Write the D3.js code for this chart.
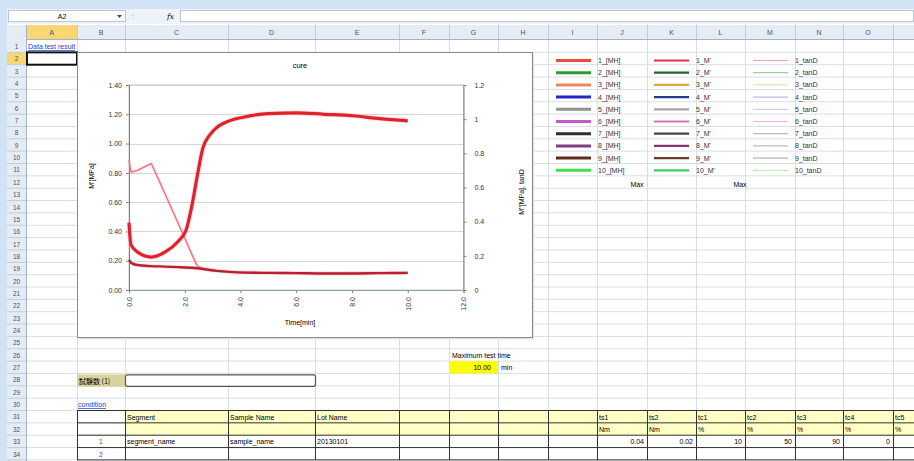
<!DOCTYPE html>
<html>
<head>
<meta charset="utf-8">
<script src="https://cdn.jsdelivr.net/npm/d3@7"></script>
<style>
	body{margin:0;background:#fff;}
	svg{display:block;font-family:"Liberation Sans",Arial,sans-serif;}
	.axis path,.axis line{stroke:#808080;}
	.axis text{fill:#333;font-size:7px;}
</style>
</head>
<body>
<svg id="sheet" width="914" height="461"></svg>
<script>

// values
var time    = [0, 0.07, 0.3, 0.8, 1.3, 1.75, 2.05, 2.25, 2.45, 2.65, 2.9, 3.15, 3.6, 4.1, 5, 6, 7, 8, 9, 10];
var mPrime  = [0.46, 0.31, 0.26, 0.225, 0.26, 0.33, 0.41, 0.57, 0.78, 0.97, 1.06, 1.11, 1.155, 1.18, 1.205, 1.21, 1.20, 1.19, 1.17, 1.155];
var mDouble = [0.176, 0.16, 0.146, 0.14, 0.137, 0.134, 0.132, 0.13, 0.127, 0.123, 0.117, 0.112, 0.106, 0.102, 0.10, 0.099, 0.097, 0.097, 0.099, 0.10];
var tanD    = [0.76, 0.69, 0.70, 0.74, 0.56, 0.395, 0.285, 0.21, 0.14, 0.127, 0.118, 0.113, 0.108, 0.105, 0.10, 0.098, 0.097, 0.098, 0.10, 0.10];

var xTicks     = [0, 2, 4, 6, 8, 10, 12];
var leftTicks  = [0, 0.2, 0.4, 0.6, 0.8, 1.0, 1.2, 1.4];
var rightTicks = [0, 0.2, 0.4, 0.6, 0.8, 1.0, 1.2];

var legendNums   = ["1","2","3","4","5","6","7","8","9","10"];
var legendSuffix = ["_[MH]", "_M'", "_tanD"];
var colorsMH  = ["#f04a3c","#2f9a34","#f2865a","#2228c4","#939393","#c458c8","#2e2e2e","#7e3f7e","#5e2d22","#3fe04c"];
var colorsM   = ["#e0304c","#226626","#e4a24a","#233a8c","#a4a4a4","#e070c4","#444444","#923072","#6e3e20","#34d060"];
var colorsTan = ["#f0a4a8","#86c488","#f0d2a4","#a4a6e4","#c4c4c4","#f0b4e4","#a8a8a8","#b8a4b4","#b49a94","#a4f0a8"];
var legendFoot = ["Max", "Max"];

var colLetters = ["A","B","C","D","E","F","G","H","I","J","K","L","M","N","O"];
var tableHead  = ["Segment", "Sample Name", "Lot Name"];
var rowOne     = ["segment_name", "sample_name", "20130101"];
var paramNames = ["ts1","ts2","tc1","tc2","tc3","tc4","tc5"];
var paramUnits = ["Nm","Nm","%","%","%","%","%"];
var paramVals  = ["0.04","0.02","10","50","90","0",""];
var maxTime    = "10.00";

// sheet layout
var colEdges = [26, 77, 125, 228, 315, 399, 449, 498, 548, 597, 647, 696, 745, 795, 843, 893, 943];
var rowTop0 = 40, rh = 12.35, nRows = 34;
function rowTop(r){ return rowTop0 + (r - 1) * rh; }
function rowMid(r){ return rowTop(r) + rh / 2 + 0.5; }

var svg = d3.select("#sheet");

svg.append("rect").attr("width", 914).attr("height", 461).attr("fill", "#fff");

// window frame / formula bar
svg.append("rect").attr("x",0).attr("y",0).attr("width",914).attr("height",9).attr("fill","#d3e3f6");
svg.append("rect").attr("x",0).attr("y",0).attr("width",7).attr("height",461).attr("fill","#d3e3f6");
svg.append("rect").attr("x",7).attr("y",9).attr("width",907).attr("height",15).attr("fill","#eef3fa");
svg.append("rect").attr("x",8.5).attr("y",10.5).attr("width",117).attr("height",11).attr("fill","#fff").attr("stroke","#b8c8dc");
svg.append("text").attr("x",62).attr("y",16.5).attr("dy","0.35em").attr("text-anchor","middle")
	.style("font-size","7px").text("A2");
svg.append("path").attr("d","M117,15 l5,0 l-2.5,3 z").attr("fill","#444");
svg.append("text").attr("x",132).attr("y",16.5).attr("dy","0.35em").style("font-size","7px").style("fill","#777").text(":");
svg.append("text").attr("x",167).attr("y",16.5).attr("dy","0.35em").style("font-size","7.5px")
	.style("font-style","italic").style("font-family","'DejaVu Serif',serif").text("fx");
svg.append("rect").attr("x",180.5).attr("y",10.5).attr("width",733).attr("height",11).attr("fill","#fff").attr("stroke","#b8c8dc");

// column headers
svg.append("rect").attr("x",7).attr("y",25).attr("width",907).attr("height",14).attr("fill","#e6ecf4");
svg.append("rect").attr("x",colEdges[0]).attr("y",25).attr("width",colEdges[1]-colEdges[0]).attr("height",14).attr("fill","#f7d774");
svg.append("line").attr("x1",7).attr("x2",914).attr("y1",39.5).attr("y2",39.5).attr("stroke","#9fb4cc");
colEdges.slice(1).forEach(function(x){
	svg.append("line").attr("x1",x+0.5).attr("x2",x+0.5).attr("y1",25).attr("y2",39).attr("stroke","#c0cddd");
});
colLetters.forEach(function(c, i){
	var x0 = colEdges[i], x1 = colEdges[i+1];
	svg.append("text").attr("x",(x0+x1)/2).attr("y",32.5).attr("dy","0.35em").attr("text-anchor","middle")
		.style("font-size","7px").style("fill","#4a5468").text(c);
});

// row headers
svg.append("rect").attr("x",7).attr("y",39).attr("width",19).attr("height",422).attr("fill","#e6ecf4");
svg.append("rect").attr("x",7).attr("y",rowTop(2)).attr("width",19).attr("height",rh).attr("fill","#f7d774");
d3.range(1, nRows + 1).forEach(function(r){
	svg.append("line").attr("x1",7).attr("x2",26).attr("y1",rowTop(r+1)).attr("y2",rowTop(r+1)).attr("stroke","#c0cddd");
	svg.append("text").attr("x",16.5).attr("y",rowMid(r)).attr("dy","0.35em").attr("text-anchor","middle")
		.style("font-size","6.5px").style("fill","#4a5468").text(r);
});
svg.append("line").attr("x1",26.5).attr("x2",26.5).attr("y1",25).attr("y2",461).attr("stroke","#9fb4cc");

// cell grid
var grid = svg.append("g").attr("stroke","#d9dde4").attr("stroke-width",1);
colEdges.slice(1).forEach(function(x){
	grid.append("line").attr("x1",x+0.5).attr("x2",x+0.5).attr("y1",40).attr("y2",461);
});
d3.range(2, nRows + 2).forEach(function(r){
	grid.append("line").attr("x1",27).attr("x2",914).attr("y1",rowTop(r)).attr("y2",rowTop(r));
});

// row 1 link
svg.append("text").attr("x",28).attr("y",rowMid(1)).attr("dy","0.35em")
	.style("font-size","7px").style("fill","#1f3ec8").style("text-decoration","underline").text("Data test result");

// selected cell A2
svg.append("rect").attr("x",colEdges[0]+1).attr("y",rowTop(2)).attr("width",colEdges[1]-colEdges[0]-1).attr("height",rh)
	.attr("fill","none").attr("stroke","#111").attr("stroke-width",2);

// ---------- chart ----------
var chart = svg.append("g");
chart.append("rect").attr("x",79).attr("y",54.5).attr("width",455).attr("height",285).attr("fill","#e2e2e2");
chart.append("rect").attr("x",77.5).attr("y",52.5).attr("width",455).attr("height",285)
	.attr("fill","#fff").attr("stroke","#8a8a8a");

var xScale = d3.scaleLinear().domain([0, 12]).range([129, 463.5]);
var yLeft  = d3.scaleLinear().domain([0, 1.4]).range([290, 85]);
var yRight = d3.scaleLinear().domain([0, 1.2]).range([290, 85]);

// gridlines
chart.append("g").selectAll("line").data(leftTicks.slice(1)).enter().append("line")
	.attr("x1", xScale(0)).attr("x2", xScale(12))
	.attr("y1", function(d){ return Math.round(yLeft(d)) + 0.5; })
	.attr("y2", function(d){ return Math.round(yLeft(d)) + 0.5; })
	.attr("stroke", "#d6d6d6");
chart.append("rect").attr("x",xScale(0)).attr("y",yLeft(1.4)).attr("width",xScale(12)-xScale(0)).attr("height",yLeft(0)-yLeft(1.4))
	.attr("fill","none").attr("stroke","#c8c8c8");

chart.append("g").attr("class","axis").attr("transform","translate(" + xScale(0) + ",0)")
	.call(d3.axisLeft(yLeft).tickValues(leftTicks).tickFormat(d3.format(".2f")).tickSize(3).tickPadding(4));

chart.append("g").attr("class","axis").attr("transform","translate(" + xScale(12) + ",0)")
	.call(d3.axisRight(yRight).tickValues(rightTicks).tickFormat(d3.format("~g")).tickSize(3).tickPadding(8));

var xAxis = chart.append("g").attr("class","axis").attr("transform","translate(0," + yLeft(0) + ")")
	.call(d3.axisBottom(xScale).tickValues(xTicks).tickFormat(d3.format(".1f")).tickSize(3));
xAxis.select(".domain").style("stroke","#8fa4b8");
xAxis.selectAll("text")
	.attr("transform","rotate(-90)").attr("x",-7).attr("y",0).attr("dy","0.32em")
	.style("text-anchor","end");

chart.append("text").attr("x",300).attr("y",68).attr("text-anchor","middle").style("font-size","7.5px").text("cure");
chart.append("text").attr("x",300).attr("y",325).attr("text-anchor","middle").style("font-size","7px").text("Time[min]");
chart.append("text").attr("transform","translate(94,176) rotate(-90)").attr("text-anchor","middle").style("font-size","7px").text("M'[MPa]");
chart.append("text").attr("transform","translate(524,192) rotate(-90)").attr("text-anchor","middle").style("font-size","7px").text("M''[MPa], tanD");

var curves = [
	{vals: tanD,    y: yRight, color: "#f26c7c", w: 1.3, curve: d3.curveLinear},
	{vals: mDouble, y: yRight, color: "#b8202e", w: 2.4, curve: d3.curveMonotoneX},
	{vals: mPrime,  y: yLeft,  color: "#e4202c", w: 3.2, curve: d3.curveMonotoneX}
];
curves.forEach(function(c){
	var line = d3.line()
		.x(function(d, i){ return xScale(time[i]); })
		.y(function(d){ return c.y(d); })
		.curve(c.curve);
	chart.append("path").datum(c.vals).attr("d", line)
		.attr("fill","none").attr("stroke","#f7b4bc").attr("stroke-width", c.w + 2).attr("opacity",0.35);
	chart.append("path").datum(c.vals).attr("d", line)
		.attr("fill","none").attr("stroke", c.color).attr("stroke-width", c.w).attr("stroke-linejoin","round");
});

// ---------- legend ----------
var legend = svg.append("g");
var legCols = [
	{x: 556, colors: colorsMH,  w: 3,   suffix: legendSuffix[0]},
	{x: 654, colors: colorsM,   w: 2.2, suffix: legendSuffix[1]},
	{x: 753, colors: colorsTan, w: 1,   suffix: legendSuffix[2]}
];
legCols.forEach(function(col){
	legendNums.forEach(function(n, i){
		var y = 60.5 + i * 12.2;
		legend.append("line").attr("x1", col.x).attr("x2", col.x + 35).attr("y1", y).attr("y2", y)
			.attr("stroke", col.colors[i]).attr("stroke-width", col.w);
		legend.append("text").attr("x", col.x + 42).attr("y", y).attr("dy","0.35em")
			.style("font-size","7px").style("fill","#333").text(n + col.suffix);
	});
});
legend.append("text").attr("x",637).attr("y",185).attr("dy","0.35em").attr("text-anchor","middle").style("font-size","7px").text(legendFoot[0]);
legend.append("text").attr("x",740).attr("y",185).attr("dy","0.35em").attr("text-anchor","middle").style("font-size","7px").text(legendFoot[1]);

// ---------- lower cells ----------
svg.append("text").attr("x",452).attr("y",rowMid(26)).attr("dy","0.35em").style("font-size","7px").text("Maximum test time");
svg.append("rect").attr("x",colEdges[6]).attr("y",rowTop(27)).attr("width",colEdges[7]-colEdges[6]).attr("height",rh).attr("fill","#ffff00");
svg.append("text").attr("x",colEdges[7]-7).attr("y",rowMid(27)).attr("dy","0.35em").attr("text-anchor","end").style("font-size","7px").text(maxTime);
svg.append("text").attr("x",colEdges[7]+3).attr("y",rowMid(27)).attr("dy","0.35em").style("font-size","7px").text("min");

svg.append("rect").attr("x",colEdges[1]).attr("y",rowTop(28)+1).attr("width",colEdges[2]-colEdges[1]).attr("height",rh).attr("fill","#d8d29c");
svg.append("text").attr("x",colEdges[1]+2).attr("y",rowMid(28)+1).attr("dy","0.35em")
	.style("font-size","7px").style("font-family","'Noto Sans CJK JP',sans-serif").text("試験数 (1)");
svg.append("rect").attr("x",colEdges[2]+0.5).attr("y",rowTop(28)+1.5).attr("width",colEdges[4]-colEdges[2]).attr("height",rh-1)
	.attr("rx",2).attr("fill","#fff").attr("stroke","#555").attr("stroke-width",1.2);

svg.append("text").attr("x",78).attr("y",rowMid(30)).attr("dy","0.35em")
	.style("font-size","7px").style("fill","#1f3ec8").style("text-decoration","underline").text("condition");

// condition table
var tbl = svg.append("g");
[31, 32].forEach(function(r){
	tbl.append("rect").attr("x",colEdges[2]).attr("y",rowTop(r)).attr("width",914-colEdges[2]).attr("height",rh).attr("fill","#ffffc6");
});
[31, 32, 33, 34, 35].forEach(function(r){
	tbl.append("line").attr("x1",colEdges[1]).attr("x2",914).attr("y1",rowTop(r)).attr("y2",rowTop(r)).attr("stroke","#333");
});
colEdges.slice(1).forEach(function(x){
	tbl.append("line").attr("x1",x+0.5).attr("x2",x+0.5).attr("y1",rowTop(31)).attr("y2",rowTop(35)).attr("stroke","#333");
});
tableHead.forEach(function(t, i){
	tbl.append("text").attr("x",colEdges[2+i]+2).attr("y",rowMid(31)).attr("dy","0.35em").style("font-size","7px").text(t);
});
rowOne.forEach(function(t, i){
	tbl.append("text").attr("x",colEdges[2+i]+2).attr("y",rowMid(33)).attr("dy","0.35em").style("font-size","7px").text(t);
});
paramNames.forEach(function(t, i){
	var x0 = colEdges[9+i], x1 = colEdges[10+i];
	tbl.append("text").attr("x",x0+2).attr("y",rowMid(31)).attr("dy","0.35em").style("font-size","7px").text(t);
	tbl.append("text").attr("x",x0+2).attr("y",rowMid(32)).attr("dy","0.35em").style("font-size","7px").text(paramUnits[i]);
	tbl.append("text").attr("x",x1-3).attr("y",rowMid(33)).attr("dy","0.35em").attr("text-anchor","end").style("font-size","7px").text(paramVals[i]);
});
["1", "2"].forEach(function(t, i){
	tbl.append("text").attr("x",(colEdges[1]+colEdges[2])/2).attr("y",rowMid(33+i)).attr("dy","0.35em")
		.attr("text-anchor","middle").style("font-size","7px").style("fill","#e02020").text(t);
});

</script>
</body>
</html>
